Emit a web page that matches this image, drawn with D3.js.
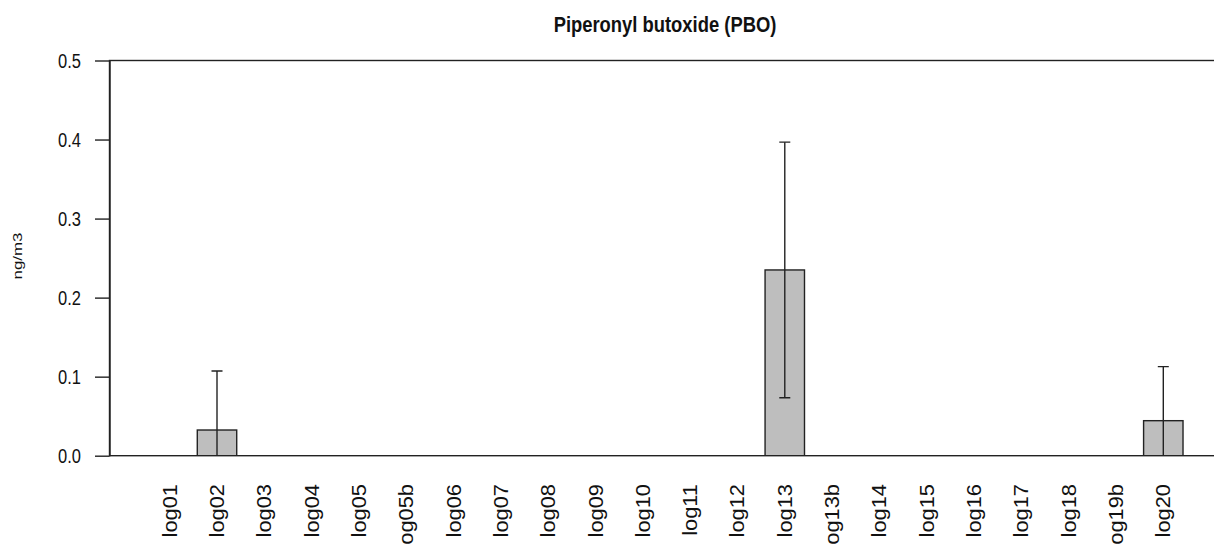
<!DOCTYPE html>
<html>
<head>
<meta charset="utf-8">
<script src="https://cdn.jsdelivr.net/npm/d3@7"></script>
<style>
  html, body { margin: 0; padding: 0; background: #fff; }
  svg { display: block; }
  text { font-family: "Liberation Sans", Arial, sans-serif; fill: #111; }
</style>
</head>
<body>
<div id="chart"></div>
<script>
// Sampling sites along the x axis
const categories = ["log01", "log02", "log03", "log04", "log05", "log05b", "log06",
  "log07", "log08", "log09", "log10", "log11", "log12", "log13", "log13b", "log14",
  "log15", "log16", "log17", "log18", "log19b", "log20"];
// Mean concentration (ng/m3) per site
const means = [0, 0.0325, 0, 0, 0, 0, 0, 0, 0, 0, 0, 0, 0, 0.235, 0, 0, 0, 0, 0, 0, 0, 0.0443];
// Standard deviation per site (drawn as error bars)
const sds = [0, 0.0747, 0, 0, 0, 0, 0, 0, 0, 0, 0, 0, 0, 0.1617, 0, 0, 0, 0, 0, 0, 0, 0.0684];
const yTicks = [0, 0.1, 0.2, 0.3, 0.4, 0.5];
const title = "Piperonyl butoxide (PBO)";
const yLabel = "ng/m3";

const W = 1214, H = 544;
const svg = d3.select("#chart").append("svg").attr("width", W).attr("height", H);

const axisX = 109.5;
const step = 47.315;
const bandStart = 146.03;
const x = d3.scaleBand()
  .domain(categories)
  .range([bandStart, bandStart + step * categories.length])
  .paddingInner(1 / 6)
  .paddingOuter(1 / 12);

const y = d3.scaleLinear().domain([0, 0.5]).range([455.7, 60.5]);

const ink = "#222";
const rows = categories.map((c, i) => ({ c, m: means[i], s: sds[i] }));

// Error bars are clipped to the plotting region
svg.append("clipPath").attr("id", "plotclip")
  .append("rect").attr("x", axisX).attr("y", y(0.5)).attr("width", W).attr("height", y(0) - y(0.5));

const plot = svg.append("g").attr("clip-path", "url(#plotclip)");

// Bars
plot.selectAll("rect.bar")
  .data(rows.filter(d => d.m > 0))
  .join("rect")
  .attr("class", "bar")
  .attr("x", d => x(d.c))
  .attr("width", x.bandwidth())
  .attr("y", d => y(d.m))
  .attr("height", d => y(0) - y(d.m))
  .attr("fill", "#bebebe")
  .attr("stroke", ink)
  .attr("stroke-width", 1.4);

// Error bars: mean ± sd with caps
const cap = 5.5;
rows.filter(d => d.s > 0).forEach(d => {
  const cx = x(d.c) + x.bandwidth() / 2;
  const hi = d.m + d.s, lo = d.m - d.s;
  plot.append("line")
    .attr("x1", cx).attr("x2", cx)
    .attr("y1", y(hi)).attr("y2", y(lo))
    .attr("stroke", ink).attr("stroke-width", 1.4);
  plot.append("line")
    .attr("x1", cx - cap).attr("x2", cx + cap)
    .attr("y1", y(hi)).attr("y2", y(hi))
    .attr("stroke", ink).attr("stroke-width", 1.4);
  if (lo >= 0) {
    plot.append("line")
      .attr("x1", cx - cap).attr("x2", cx + cap)
      .attr("y1", y(lo)).attr("y2", y(lo))
      .attr("stroke", ink).attr("stroke-width", 1.4);
  }
});

// Box around the plotting region (right side runs past the canvas)
svg.append("rect")
  .attr("x", axisX).attr("y", y(0.5))
  .attr("width", 1224 - axisX).attr("height", y(0) - y(0.5))
  .attr("fill", "none").attr("stroke", ink).attr("stroke-width", 1.4);

// Y axis
const yAxis = svg.append("g")
  .attr("transform", `translate(${axisX},0)`)
  .call(d3.axisLeft(y).tickValues(yTicks).tickFormat(d3.format(".1f"))
    .tickSize(14.5).tickSizeOuter(0).tickPadding(14));
yAxis.select(".domain").attr("stroke", ink).attr("stroke-width", 1.4);
yAxis.selectAll(".tick line").attr("stroke", ink).attr("stroke-width", 1.4);
yAxis.selectAll(".tick text")
  .attr("fill", "#111")
  .style("font-size", "16.5px")
  .attr("dy", "0.358em")
  .attr("transform", "scale(1,1.18)");

// X category labels, rotated to read upward
svg.append("g").selectAll("text")
  .data(categories)
  .join("text")
  .attr("transform", d => `translate(${x(d) + x.bandwidth() / 2 + 7},484) rotate(-90) scale(1.12,1)`)
  .attr("text-anchor", "end")
  .style("font-size", "19.5px")
  .text(d => d);

// Title
svg.append("text")
  .attr("transform", "translate(665,31.7) scale(1,1.2)")
  .attr("text-anchor", "middle")
  .style("font-size", "18.4px")
  .style("font-weight", "bold")
  .text(title);

// Y axis title
svg.append("text")
  .attr("transform", `translate(22.3,256) rotate(-90) scale(1.3,1)`)
  .attr("text-anchor", "middle")
  .style("font-size", "13px")
  .text(yLabel);
</script>
</body>
</html>
